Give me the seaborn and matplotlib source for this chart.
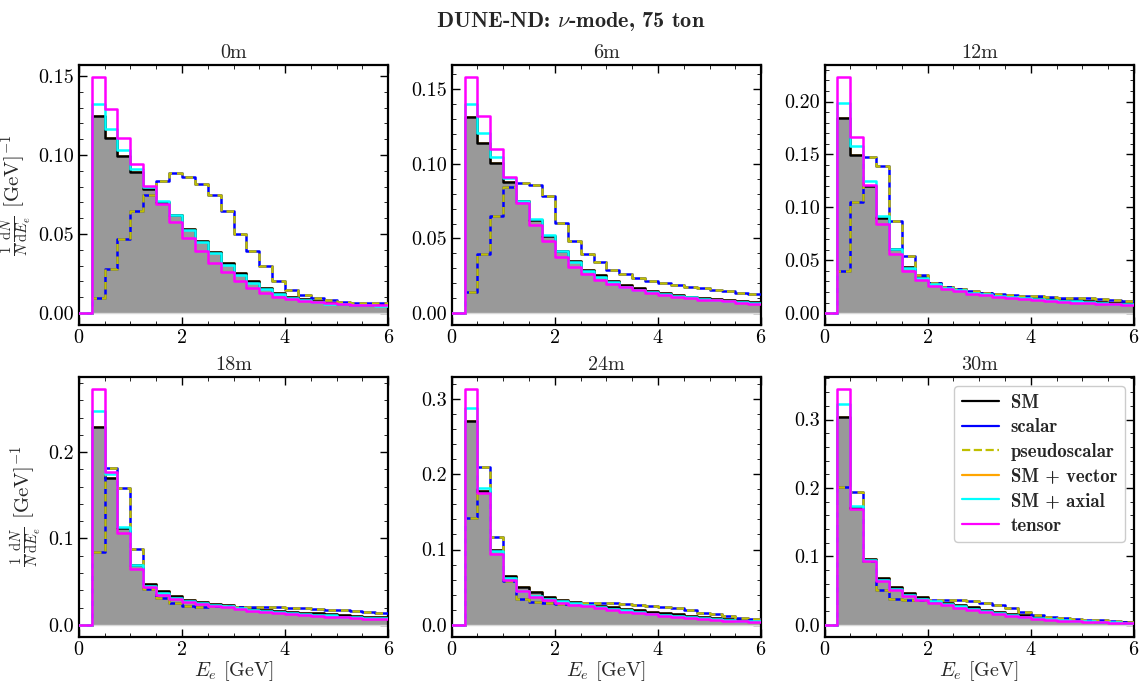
import numpy as np
import pandas as pd
import matplotlib
matplotlib.use("Agg")
import matplotlib.pyplot as plt
from matplotlib.lines import Line2D
from matplotlib.ticker import AutoMinorLocator, MultipleLocator, FormatStrFormatter
import seaborn as sns

# ---------------- data ----------------
BIN_WIDTH = 0.25
E_RANGE = (0.0, 6.0)
PANELS = ["0m", "6m", "12m", "18m", "24m", "30m"]

SM_0 = [0, 0.1245, 0.1108, 0.0994, 0.089, 0.0787, 0.0703, 0.0618, 0.053, 0.0454, 0.0386, 0.0319,
        0.0255, 0.0203, 0.0158, 0.0127, 0.0103, 0.0087, 0.0074, 0.0063, 0.0057, 0.0054, 0.0052, 0.005]
AXIAL_0 = [0, 0.132, 0.1162, 0.103, 0.0913, 0.080, 0.0707, 0.0618, 0.0525, 0.045, 0.038, 0.0306,
           0.0243, 0.0192, 0.015, 0.012, 0.0098, 0.0082, 0.007, 0.006, 0.0055, 0.0052, 0.005, 0.0048]
TENSOR_0 = [0, 0.1494, 0.1289, 0.111, 0.0943, 0.0806, 0.0688, 0.0576, 0.0475, 0.039, 0.0319, 0.026,
            0.020, 0.0162, 0.0127, 0.0105, 0.009, 0.0076, 0.007, 0.0061, 0.0055, 0.0053, 0.0051, 0.005]
SCALAR_0 = [0, 0.0097, 0.0276, 0.047, 0.0643, 0.0749, 0.0838, 0.0888, 0.0859, 0.0814, 0.0745, 0.0646,
            0.0502, 0.0394, 0.0297, 0.020, 0.0148, 0.0116, 0.0095, 0.008, 0.007, 0.0065, 0.0063, 0.0061]

SM_6 = [0, 0.1315, 0.1143, 0.1005, 0.0876, 0.0753, 0.0626, 0.0519, 0.0419, 0.0352, 0.0292, 0.0252,
        0.0218, 0.0189, 0.0167, 0.0147, 0.0134, 0.0123, 0.0111, 0.0103, 0.0096, 0.0089, 0.0082, 0.0076]
AXIAL_6 = [0, 0.140, 0.1206, 0.1043, 0.0903, 0.0749, 0.063, 0.0524, 0.0415, 0.0345, 0.0285, 0.0241,
           0.0207, 0.0178, 0.0158, 0.014, 0.0127, 0.0114, 0.0105, 0.0096, 0.0087, 0.0082, 0.0076, 0.0069]
TENSOR_6 = [0, 0.1582, 0.1322, 0.1099, 0.0909, 0.0738, 0.0593, 0.0481, 0.0374, 0.0308, 0.0263, 0.0225,
            0.0196, 0.0172, 0.0152, 0.0134, 0.012, 0.0109, 0.010, 0.0091, 0.0085, 0.0078, 0.0071, 0.0062]
SCALAR_6 = [0, 0.014, 0.0397, 0.0653, 0.0842, 0.0871, 0.0858, 0.0782, 0.0604, 0.0486, 0.0397, 0.0341,
            0.0292, 0.0263, 0.0236, 0.0218, 0.0203, 0.0189, 0.0178, 0.0167, 0.0156, 0.0147, 0.0136, 0.0125]

SM_12 = [0, 0.184, 0.1498, 0.12, 0.09, 0.0605, 0.0439, 0.0345, 0.0282, 0.0251, 0.0229, 0.0204,
         0.0188, 0.0172, 0.0163, 0.015, 0.0141, 0.0135, 0.0129, 0.0122, 0.0116, 0.0107, 0.010, 0.0094]
AXIAL_12 = [0, 0.1987, 0.1583, 0.1245, 0.0918, 0.0602, 0.0429, 0.0329, 0.0273, 0.0241, 0.0219, 0.0194,
            0.0179, 0.0163, 0.0154, 0.0141, 0.0132, 0.0122, 0.0116, 0.011, 0.0103, 0.0097, 0.0088, 0.0082]
TENSOR_12 = [0, 0.2232, 0.1668, 0.1213, 0.084, 0.0555, 0.0401, 0.0313, 0.0257, 0.0229, 0.021, 0.0185,
             0.0169, 0.0154, 0.0141, 0.0129, 0.0122, 0.0113, 0.0107, 0.010, 0.0094, 0.0088, 0.0082, 0.0075]
SCALAR_12 = [0, 0.0401, 0.105, 0.1473, 0.1389, 0.0871, 0.0542, 0.036, 0.0282, 0.0245, 0.0226, 0.021,
             0.0194, 0.0182, 0.0172, 0.0163, 0.0157, 0.015, 0.0144, 0.0144, 0.0141, 0.0135, 0.0125, 0.0119]

SM_18 = [0, 0.2288, 0.1696, 0.1119, 0.0692, 0.0473, 0.0388, 0.0335, 0.0292, 0.0265, 0.0246, 0.0227,
         0.0204, 0.0192, 0.0177, 0.0165, 0.0154, 0.0142, 0.0131, 0.0123, 0.0112, 0.0104, 0.0096, 0.0088]
AXIAL_18 = [0, 0.2473, 0.175, 0.1138, 0.0696, 0.0454, 0.0365, 0.0312, 0.0273, 0.025, 0.0231, 0.0212,
            0.0192, 0.0177, 0.0162, 0.015, 0.0138, 0.0127, 0.0115, 0.0108, 0.0096, 0.0088, 0.0081, 0.0073]
TENSOR_18 = [0, 0.2735, 0.1773, 0.1062, 0.0646, 0.0435, 0.035, 0.030, 0.0262, 0.0238, 0.0219, 0.0204,
             0.0181, 0.0165, 0.015, 0.0138, 0.0127, 0.0115, 0.0104, 0.0096, 0.0085, 0.0077, 0.0069, 0.0062]
SCALAR_18 = [0, 0.0838, 0.1819, 0.1588, 0.0877, 0.0415, 0.0308, 0.025, 0.0215, 0.0208, 0.0212, 0.0212,
             0.0204, 0.0204, 0.0204, 0.0204, 0.020, 0.0196, 0.0188, 0.0177, 0.0169, 0.0158, 0.0146, 0.0131]

SM_24 = [0, 0.2704, 0.178, 0.0993, 0.0653, 0.0498, 0.0432, 0.0375, 0.0335, 0.0304, 0.0278, 0.0251,
         0.0234, 0.0212, 0.019, 0.0172, 0.0154, 0.0137, 0.0119, 0.0101, 0.0088, 0.0075, 0.0062, 0.0049]
AXIAL_24 = [0, 0.288, 0.1822, 0.0975, 0.0622, 0.0454, 0.0388, 0.0344, 0.0313, 0.0287, 0.0265, 0.0238,
            0.0216, 0.019, 0.0168, 0.015, 0.0132, 0.0115, 0.0101, 0.0088, 0.0075, 0.0062, 0.0053, 0.0044]
TENSOR_24 = [0, 0.3136, 0.1756, 0.094, 0.0596, 0.0446, 0.0375, 0.0331, 0.0296, 0.0269, 0.0247, 0.0221,
             0.0199, 0.0176, 0.0154, 0.0137, 0.0119, 0.0101, 0.0088, 0.0075, 0.0062, 0.0053, 0.0044, 0.0035]
SCALAR_24 = [0, 0.1412, 0.2095, 0.1169, 0.0587, 0.0344, 0.030, 0.0287, 0.0273, 0.0278, 0.0287, 0.0291,
             0.0291, 0.0282, 0.0269, 0.0256, 0.0243, 0.0225, 0.0199, 0.0163, 0.0137, 0.0115, 0.0088, 0.0071]

SM_30 = [0, 0.3039, 0.170, 0.0958, 0.0684, 0.0549, 0.0466, 0.0413, 0.0354, 0.0316, 0.0290, 0.0257,
         0.0223, 0.0189, 0.016, 0.0136, 0.0112, 0.0092, 0.0078, 0.0063, 0.0053, 0.0044, 0.0039, 0.0034]
AXIAL_30 = [0, 0.3233, 0.1738, 0.0947, 0.0655, 0.0524, 0.0442, 0.0383, 0.0345, 0.0306, 0.0272, 0.0238,
            0.0204, 0.0175, 0.0146, 0.0121, 0.0102, 0.0083, 0.0068, 0.0058, 0.0049, 0.0039, 0.0034, 0.0029]
TENSOR_30 = [0, 0.3451, 0.1689, 0.0927, 0.0646, 0.051, 0.0427, 0.0369, 0.0325, 0.0286, 0.0252, 0.0218,
             0.0189, 0.016, 0.0131, 0.0107, 0.0087, 0.0073, 0.0058, 0.0049, 0.0039, 0.0034, 0.0029, 0.0024]
SCALAR_30 = [0, 0.2019, 0.1947, 0.0937, 0.0515, 0.0379, 0.0364, 0.0364, 0.0369, 0.0369, 0.0364, 0.0345,
             0.032, 0.0296, 0.0243, 0.0184, 0.015, 0.0121, 0.0102, 0.0087, 0.0073, 0.0063, 0.0049, 0.0039]

# SM+vector coincides with SM and pseudoscalar coincides with scalar in the picture
SM_DATA = [SM_0, SM_6, SM_12, SM_18, SM_24, SM_30]
SCALAR_DATA = [SCALAR_0, SCALAR_6, SCALAR_12, SCALAR_18, SCALAR_24, SCALAR_30]
PSEUDO_DATA = [SCALAR_0, SCALAR_6, SCALAR_12, SCALAR_18, SCALAR_24, SCALAR_30]
VECTOR_DATA = [SM_0, SM_6, SM_12, SM_18, SM_24, SM_30]
AXIAL_DATA = [AXIAL_0, AXIAL_6, AXIAL_12, AXIAL_18, AXIAL_24, AXIAL_30]
TENSOR_DATA = [TENSOR_0, TENSOR_6, TENSOR_12, TENSOR_18, TENSOR_24, TENSOR_30]
Y_STEPS = [0.05, 0.05, 0.05, 0.1, 0.1, 0.1]
Y_FMT = ["%.2f", "%.2f", "%.2f", "%.1f", "%.1f", "%.1f"]

LABELS = ["SM", "scalar", "pseudoscalar", "SM + vector", "SM + axial", "tensor"]
COLORS = ["black", "blue", "#bfbf00", "orange", "cyan", "magenta"]
STYLES = ["-", "-", "--", "-", "-", "-"]

# ---------------- style ----------------
sns.set_style("ticks")
plt.rcParams.update({
    "font.family": ["cmr10"],
    "mathtext.fontset": "cm",
    "axes.formatter.use_mathtext": True,
    "axes.unicode_minus": False,
    "xtick.direction": "in",
    "ytick.direction": "in",
    "xtick.top": True,
    "ytick.right": True,
    "xtick.minor.visible": True,
    "ytick.minor.visible": True,
    "xtick.major.size": 6,
    "ytick.major.size": 6,
    "xtick.minor.size": 3,
    "ytick.minor.size": 3,
    "xtick.major.width": 1.0,
    "ytick.major.width": 1.0,
    "axes.linewidth": 1.6,
    "xtick.labelsize": 14.5,
    "ytick.labelsize": 14.5,
    "xtick.color": "black",
    "ytick.color": "black",
    "axes.edgecolor": "black",
})

n_bins = len(SM_0)
centers = E_RANGE[0] + BIN_WIDTH * (np.arange(n_bins) + 0.5)

fig, axes = plt.subplots(2, 3, figsize=(11.42, 6.86), dpi=100)
fig.subplots_adjust(left=0.069, right=0.993, top=0.905, bottom=0.072, wspace=0.205, hspace=0.2)


def hist(ax, vals, color, ls="-", lw=1.8, z=2, fill=False, **kw):
    df = pd.DataFrame({"E": centers, "w": vals})
    sns.histplot(data=df, x="E", weights="w", binwidth=BIN_WIDTH, binrange=E_RANGE,
                 element="step", fill=fill, color=color, linestyle=ls, linewidth=lw,
                 ax=ax, zorder=z, **kw)


for i, ax in enumerate(axes.flat):
    sm = SM_DATA[i]
    hist(ax, VECTOR_DATA[i], "orange", z=1)
    hist(ax, sm, "#999999", lw=1.0, z=1.5, fill=True, alpha=1.0, edgecolor="#d9d9d9")
    hist(ax, sm, "black", z=2)
    hist(ax, SCALAR_DATA[i], "blue", z=3)
    hist(ax, PSEUDO_DATA[i], "#bfbf00", ls=(0, (3.0, 2.0)), z=4)
    hist(ax, AXIAL_DATA[i], "cyan", z=5)
    hist(ax, TENSOR_DATA[i], "magenta", z=6)

    ymax = max(max(TENSOR_DATA[i]), max(SCALAR_DATA[i]))
    ax.set_xlim(*E_RANGE)
    ax.set_ylim(-0.05 * ymax, 1.05 * ymax)
    ax.xaxis.set_major_locator(MultipleLocator(2))
    ax.xaxis.set_minor_locator(AutoMinorLocator(4))
    ax.yaxis.set_major_locator(MultipleLocator(Y_STEPS[i]))
    ax.yaxis.set_major_formatter(FormatStrFormatter(Y_FMT[i]))
    ax.yaxis.set_minor_locator(AutoMinorLocator())
    ax.tick_params(axis="x", which="major", pad=3)
    ax.set_title(PANELS[i], fontsize=14.5, pad=5)
    ax.set_ylabel("")
    ax.set_xlabel("")
    if i % 3 == 0:
        ax.set_ylabel(r"$\frac{1}{N}\frac{\mathrm{d}N}{\mathrm{d}E_e}$ [GeV]$^{-1}$", fontsize=15, labelpad=3)
    if i >= 3:
        ax.set_xlabel(r"$E_e$ [GeV]", fontsize=14.5, labelpad=0)
    for s in ax.spines.values():
        s.set_linewidth(1.6)

handles = [Line2D([0], [0], color=c, linestyle=s, linewidth=1.6) for c, s in zip(COLORS, STYLES)]
axes[1, 2].legend(handles, LABELS, loc="upper right", prop={"family": "cmb10", "size": 13.5},
                  frameon=True, framealpha=1.0, edgecolor="#cccccc", fancybox=True,
                  handlelength=2.0, labelspacing=0.35, borderpad=0.4, handletextpad=0.6)

fig.suptitle(r"DUNE-ND: $\nu$-mode, 75 ton", fontsize=16, fontfamily="cmb10", y=0.985)

fig.savefig("out.png", dpi=100)
